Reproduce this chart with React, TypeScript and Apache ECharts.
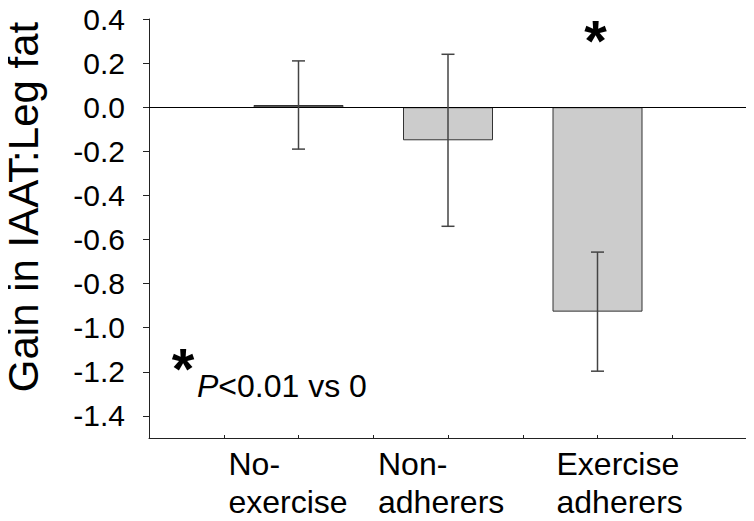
import React, { useEffect, useRef } from "react";
import * as echarts from "echarts";

const categories = ["No-\nexercise", "Non-\nadherers", "Exercise\nadherers"];
const positions = [2, 4, 6];
const means = [0.01, -0.15, -0.927];
const errors = [0.2, 0.39, 0.27];
const yTicks = [0.4, 0.2, 0.0, -0.2, -0.4, -0.6, -0.8, -1.0, -1.2, -1.4];
const significant = [false, false, true];

const FONT = "'Liberation Sans', Arial, Helvetica, sans-serif";

export default function App() {
  const ref = useRef<HTMLDivElement>(null);
  useEffect(() => {
    if (!ref.current) return;
    const chart = echarts.init(ref.current, null, { renderer: "svg" });
    const barData = positions.map((p, i) => [p, means[i]]);
    const errData = positions.map((p, i) => [p, means[i] - errors[i], means[i] + errors[i]]);
    chart.setOption({
      animation: false,
      backgroundColor: "#ffffff",
      textStyle: { fontFamily: FONT },
      grid: { left: 149, right: 7, top: 19, bottom: 83, containLabel: false },
      xAxis: {
        type: "value",
        min: 0,
        max: 8,
        interval: 1,
        axisLine: { show: true, onZero: false, lineStyle: { color: "#222", width: 1 } },
        axisTick: { show: true, inside: true, length: 3, lineStyle: { color: "#222" } },
        axisLabel: { show: false },
        splitLine: { show: false },
      },
      yAxis: {
        type: "value",
        min: -1.5,
        max: 0.4,
        axisLine: { show: true, onZero: false, lineStyle: { color: "#222", width: 1 } },
        axisTick: { show: true, length: 6, customValues: yTicks, lineStyle: { color: "#222" } },
        axisLabel: {
          customValues: yTicks,
          margin: 24,
          fontSize: 30,
          color: "#000",
          fontFamily: FONT,
          formatter: (v: number) => v.toFixed(1),
        },
        splitLine: { show: false },
      },
      series: [
        {
          type: "bar",
          data: barData,
          barWidth: 90,
          itemStyle: { color: "#cccccc", borderColor: "#333", borderWidth: 1 },
          markLine: {
            silent: true,
            symbol: "none",
            label: { show: false },
            lineStyle: { color: "#000", width: 1, type: "solid" },
            data: [{ yAxis: 0 }],
          },
        },
        {
          type: "custom",
          data: errData,
          z: 5,
          renderItem: (params: any, api: any) => {
            const x = api.value(0);
            const lo = api.coord([x, api.value(1)]);
            const hi = api.coord([x, api.value(2)]);
            const cap = 6.5;
            const style = { stroke: "#444", lineWidth: 1.5 };
            return {
              type: "group",
              children: [
                { type: "line", shape: { x1: lo[0], y1: lo[1], x2: hi[0], y2: hi[1] }, style },
                { type: "line", shape: { x1: hi[0] - cap, y1: hi[1], x2: hi[0] + cap, y2: hi[1] }, style },
                { type: "line", shape: { x1: lo[0] - cap, y1: lo[1], x2: lo[0] + cap, y2: lo[1] }, style },
              ],
            };
          },
        },
      ],
    });

    const labelOffsets = [-70, -70, -41];
    const graphics: any[] = [];
    positions.forEach((p, i) => {
      const px = chart.convertToPixel({ gridIndex: 0 }, [p, 0]) as number[];
      graphics.push({
        type: "text",
        x: px[0] + labelOffsets[i],
        y: 445,
        style: {
          text: categories[i],
          fontSize: 32,
          lineHeight: 38,
          fontFamily: FONT,
          fill: "#000",
          align: "left",
          verticalAlign: "top",
        },
      });
      if (significant[i]) {
        const sp = chart.convertToPixel({ gridIndex: 0 }, [p, 0.335]) as number[];
        graphics.push({
          type: "text",
          x: sp[0] - 2,
          y: sp[1] + 7,
          style: {
            text: "*",
            fontSize: 58,
            fontWeight: "bold",
            fontFamily: FONT,
            fill: "#000",
            align: "center",
            verticalAlign: "middle",
          },
        });
      }
    });
    graphics.push({
      type: "text",
      x: 23,
      y: 207,
      rotation: Math.PI / 2,
      style: {
        text: "Gain in IAAT:Leg fat",
        fontSize: 42,
        lineHeight: 42,
        fontFamily: FONT,
        fill: "#000",
        align: "center",
        verticalAlign: "middle",
      },
    });
    graphics.push({
      type: "text",
      x: 183,
      y: 368,
      style: {
        text: "*",
        fontSize: 58,
        fontWeight: "bold",
        fontFamily: FONT,
        fill: "#000",
        align: "center",
        verticalAlign: "middle",
      },
    });
    graphics.push({
      type: "text",
      x: 197,
      y: 386,
      style: {
        text: "{i|P}<0.01 vs 0",
        fontSize: 32,
        fontFamily: FONT,
        fill: "#000",
        align: "left",
        verticalAlign: "middle",
        rich: {
          i: { fontStyle: "italic", fontSize: 32, fontFamily: FONT, fill: "#000" },
        },
      },
    });
    chart.setOption({ graphic: graphics });
    return () => chart.dispose();
  }, []);
  return <div ref={ref} style={{ width: 754, height: 521, margin: -8 }} />;
}
